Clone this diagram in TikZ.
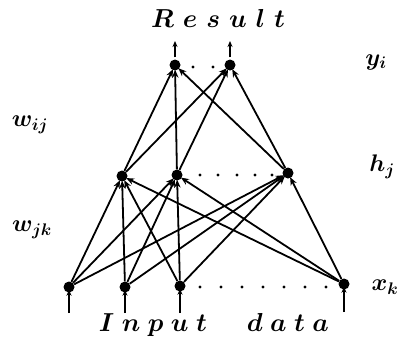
\RequirePackage{fix-cm}
\documentclass[tikz,border=0pt]{standalone}
\usepackage{bm}
\usetikzlibrary{arrows.meta}
\newcommand{\spc}[1]{\bm{#1}\hspace{9pt}}
\newcommand{\spb}[1]{\bm{#1}\hspace{7.5pt}}
\begin{document}
\begin{tikzpicture}[x=1pt,y=-1pt,
  neuron/.style={circle,fill=black,inner sep=0pt,minimum size=11pt},
  conn/.style={line width=1.8pt,-{Stealth[length=8pt,width=6.5pt]},shorten >=-1pt},
  io/.style={line width=1.3pt,-{Stealth[length=6pt,width=5pt]}},
  ell/.style={circle,fill=black,inner sep=0pt,minimum size=3.4pt},
  lab/.style={font=\fontsize{24}{28}\selectfont},
  big/.style={font=\fontsize{26}{31}\selectfont}]
\useasboundingbox (0,0) rectangle (398,343);
% nodes
\node[neuron] (o1) at (175,65) {};
\node[neuron] (o2) at (230,65) {};
\node[neuron] (h1) at (122,176) {};
\node[neuron] (h2) at (177,175) {};
\node[neuron] (h3) at (288,173) {};
\node[neuron] (i1) at (69,287) {};
\node[neuron] (i2) at (125,287) {};
\node[neuron] (i3) at (180,286) {};
\node[neuron] (i4) at (344,284) {};
% ellipsis dots
\foreach \x in {193,213} \node[ell] at (\x,67) {};
\foreach \x in {200,218,237,255,272} \node[ell] at (\x,175) {};
\foreach \x in {200,221,242,263,284,305,326} \node[ell] at (\x,287) {};
% connections input -> hidden
\foreach \i in {i1,i2,i3,i4}
  \foreach \h in {h1,h2,h3}
    \draw[conn] (\i) -- (\h);
% hidden -> output
\foreach \h in {h1,h2,h3}
  \foreach \o in {o1,o2}
    \draw[conn] (\h) -- (\o);
% output arrows
\coordinate (t1) at (175,41);
\coordinate (t2) at (230,41);
\draw[io] ([yshift=2pt]o1.north) -- (t1);
\draw[io] ([yshift=2pt]o2.north) -- (t2);
% input arrows
\coordinate (b1) at (69,313);
\coordinate (b2) at (125,313);
\coordinate (b3) at (180,313);
\coordinate (b4) at (344,312);
\draw[io] (b1) -- ([yshift=3pt]i1.south);
\draw[io] (b2) -- ([yshift=3pt]i2.south);
\draw[io] (b3) -- ([yshift=3pt]i3.south);
\draw[io] (b4) -- ([yshift=3pt]i4.south);
% labels
\node[lab] (ly) at (376,62) {$\bm{y_i}$};
\node[lab] (lh) at (382,167) {$\bm{h_j}$};
\node[lab] (lx) at (385,287) {$\bm{x_k}$};
\node[lab] (lw1) at (30,125) {$\bm{w_{ij}}$};
\node[lab] (lw2) at (32,230) {$\bm{w_{jk}}$};
\node[big] (res) at (218,18) {$\spc{R}\spc{e}\spc{s}\spc{u}\spc{l}\bm{t}$};
\node[big] (inp) at (214,325) {$\spb{I}\spb{n}\spb{p}\spb{u}\bm{t}\hspace{40pt}\spb{d}\spb{a}\spb{t}\bm{a}$};
\end{tikzpicture}
\end{document}
